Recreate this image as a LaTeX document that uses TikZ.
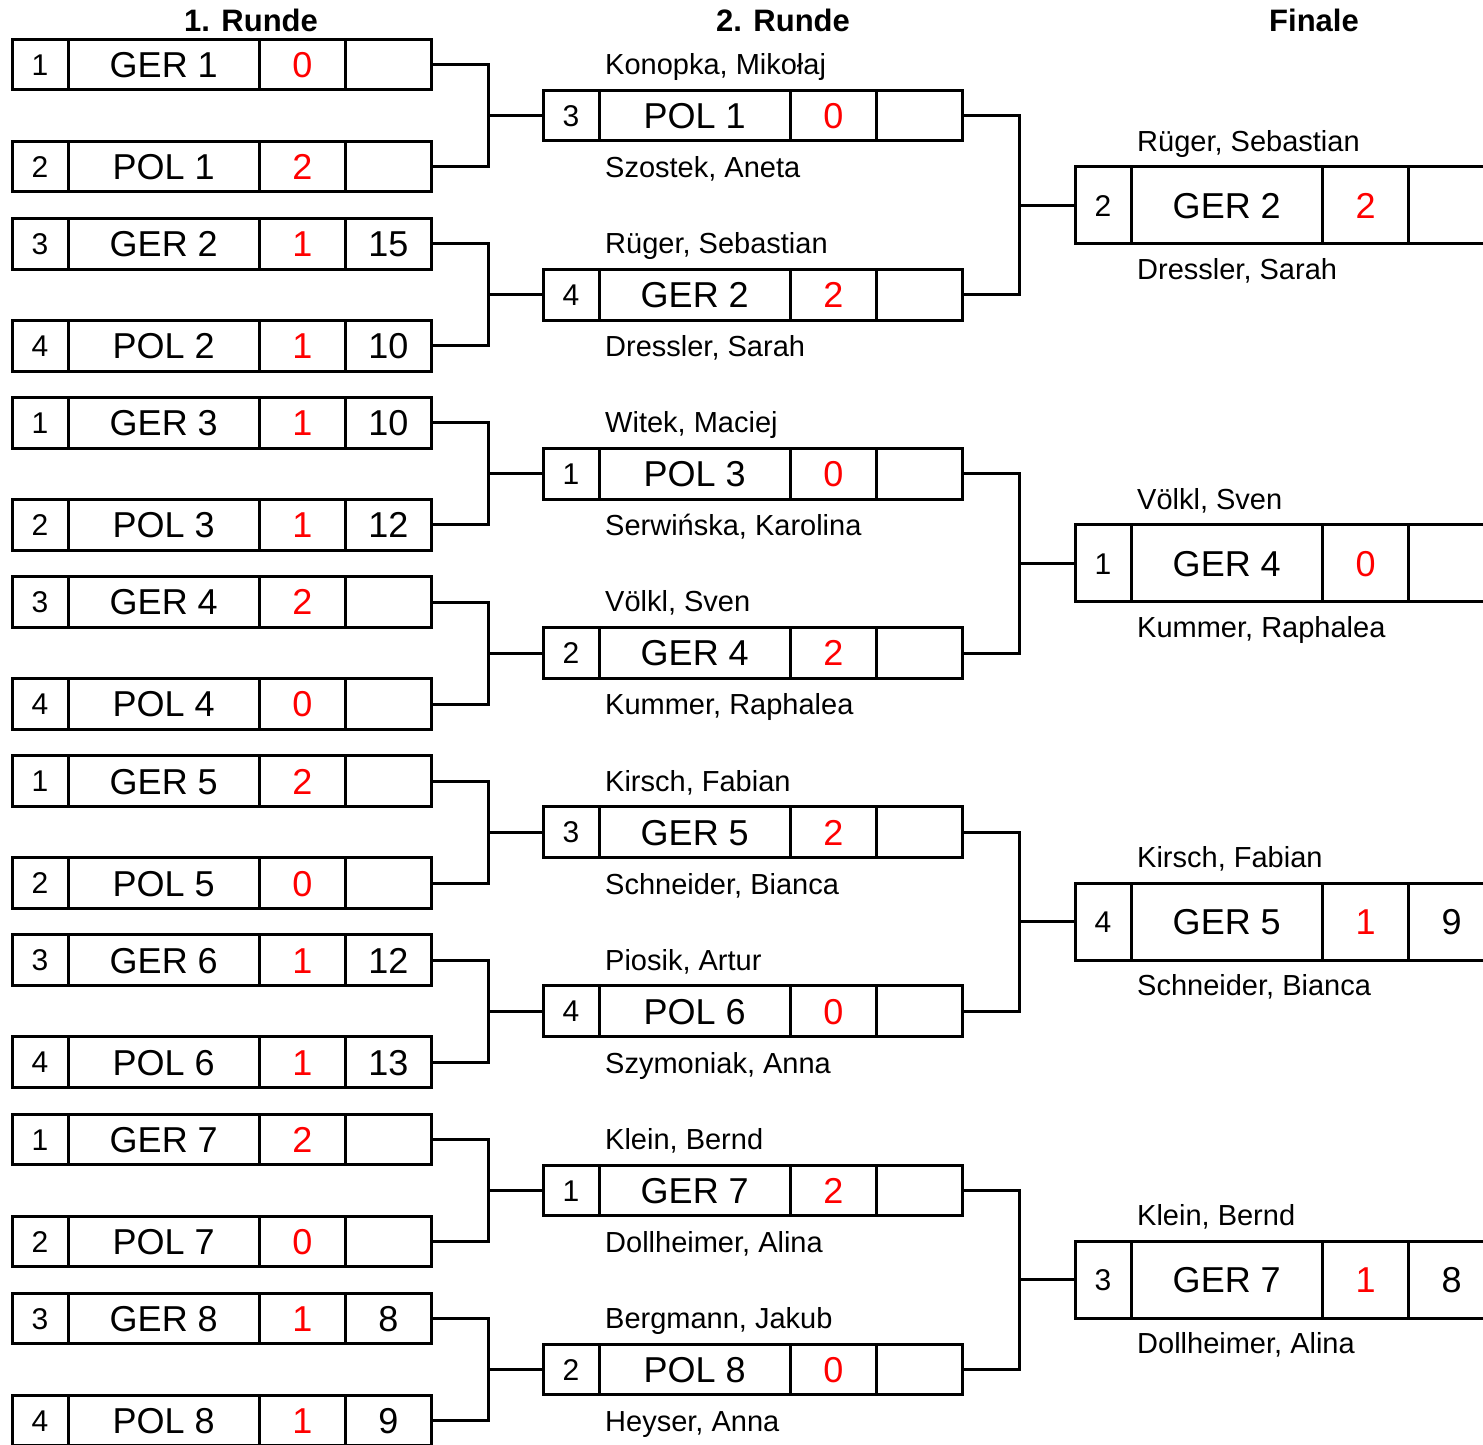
\documentclass[tikz,border=0pt]{standalone}
\usepackage{fontspec}
\setmainfont{Liberation Sans}
\tikzset{
  cellbase/.style={draw, line width=3pt, inner sep=0pt, outer sep=0pt, rectangle},
  bigtxt/.style={font=\fontsize{36}{36}\selectfont, text height=25.8pt, text depth=0pt},
  seedcell/.style={cellbase, minimum width=56, font=\fontsize{30}{30}\selectfont, text height=21.5pt, text depth=0pt},
  teamcell/.style={cellbase, bigtxt, minimum width=191.5},
  scorecell/.style={cellbase, bigtxt, minimum width=86, text=red},
  extracell/.style={cellbase, bigtxt, minimum width=86},
  namelabel/.style={anchor=west, inner sep=0pt, font=\fontsize{29}{29}\selectfont, text height=20.8pt, text depth=0pt},
  header/.style={inner sep=0pt, font=\bfseries\fontsize{31}{31}\selectfont, text height=22.2pt, text depth=0pt},
  link/.style={line width=3pt},
}
% #1 id, #2 x-left, #3 y-center, #4 height, #5 seed, #6 team, #7 score, #8 extra
\newcommand{\matchrow}[8]{%
  \node[seedcell, minimum height=#4, anchor=west] (#1-s) at (#2,#3) {#5};
  \node[teamcell, minimum height=#4, anchor=west] (#1-t) at (#1-s.east) {#6};
  \node[scorecell, minimum height=#4, anchor=west] (#1-p) at (#1-t.east) {#7};
  \node[extracell, minimum height=#4, anchor=west] (#1-x) at (#1-p.east) {#8};
}
% #1 id, #2 x, #3 y-center, #4 up offset, #5 down offset, #6 top name, #7 bottom name
\newcommand{\playernames}[7]{%
  \node[namelabel] (#1-up) at (#2,#3-#4) {#6};
  \node[namelabel] (#1-dn) at (#2,#3+#5) {#7};
}
\begin{document}
\begin{tikzpicture}[x=1pt,y=-1pt]
\useasboundingbox (0,0) rectangle (1483,1444);

% headers
\node[header] (h1) at (251,20) {1. Runde};
\node[header] (h2) at (783,20) {2. Runde};
\node[header] (h3) at (1314,20) {Finale};

% Round 1
\matchrow{a1}{12}{64.7}{50.5}{1}{GER 1}{0}{}
\matchrow{a2}{12}{166.7}{50.5}{2}{POL 1}{2}{}
\matchrow{a3}{12}{243.8}{50.5}{3}{GER 2}{1}{15}
\matchrow{a4}{12}{345.8}{50.5}{4}{POL 2}{1}{10}
\matchrow{a5}{12}{422.9}{50.5}{1}{GER 3}{1}{10}
\matchrow{a6}{12}{524.9}{50.5}{2}{POL 3}{1}{12}
\matchrow{a7}{12}{602.0}{50.5}{3}{GER 4}{2}{}
\matchrow{a8}{12}{704.0}{50.5}{4}{POL 4}{0}{}
\matchrow{a9}{12}{781.1}{50.5}{1}{GER 5}{2}{}
\matchrow{a10}{12}{883.1}{50.5}{2}{POL 5}{0}{}
\matchrow{a11}{12}{960.2}{50.5}{3}{GER 6}{1}{12}
\matchrow{a12}{12}{1062.2}{50.5}{4}{POL 6}{1}{13}
\matchrow{a13}{12}{1139.3}{50.5}{1}{GER 7}{2}{}
\matchrow{a14}{12}{1241.3}{50.5}{2}{POL 7}{0}{}
\matchrow{a15}{12}{1318.4}{50.5}{3}{GER 8}{1}{8}
\matchrow{a16}{12}{1420.4}{50.5}{4}{POL 8}{1}{9}

% Round 2
\matchrow{b1}{543}{115.7}{50.5}{3}{POL 1}{0}{}
\matchrow{b2}{543}{294.8}{50.5}{4}{GER 2}{2}{}
\matchrow{b3}{543}{473.9}{50.5}{1}{POL 3}{0}{}
\matchrow{b4}{543}{653.0}{50.5}{2}{GER 4}{2}{}
\matchrow{b5}{543}{832.1}{50.5}{3}{GER 5}{2}{}
\matchrow{b6}{543}{1011.2}{50.5}{4}{POL 6}{0}{}
\matchrow{b7}{543}{1190.3}{50.5}{1}{GER 7}{2}{}
\matchrow{b8}{543}{1369.4}{50.5}{2}{POL 8}{0}{}

\playernames{b1}{605}{115.7}{51.5}{51.5}{Konopka, Mikołaj}{Szostek, Aneta}
\playernames{b2}{605}{294.8}{51.5}{51.5}{Rüger, Sebastian}{Dressler, Sarah}
\playernames{b3}{605}{473.9}{51.5}{51.5}{Witek, Maciej}{Serwińska, Karolina}
\playernames{b4}{605}{653.0}{51.5}{51.5}{Völkl, Sven}{Kummer, Raphalea}
\playernames{b5}{605}{832.1}{51.5}{51.5}{Kirsch, Fabian}{Schneider, Bianca}
\playernames{b6}{605}{1011.2}{51.5}{51.5}{Piosik, Artur}{Szymoniak, Anna}
\playernames{b7}{605}{1190.3}{51.5}{51.5}{Klein, Bernd}{Dollheimer, Alina}
\playernames{b8}{605}{1369.4}{51.5}{51.5}{Bergmann, Jakub}{Heyser, Anna}

% Finale
\matchrow{c1}{1075}{205.25}{77}{2}{GER 2}{2}{}
\matchrow{c2}{1075}{563.45}{77}{1}{GER 4}{0}{}
\matchrow{c3}{1075}{921.65}{77}{4}{GER 5}{1}{9}
\matchrow{c4}{1075}{1279.85}{77}{3}{GER 7}{1}{8}

\playernames{c1}{1137}{205.25}{64.5}{63.5}{Rüger, Sebastian}{Dressler, Sarah}
\playernames{c2}{1137}{563.45}{64.5}{63.5}{Völkl, Sven}{Kummer, Raphalea}
\playernames{c3}{1137}{921.65}{64.5}{63.5}{Kirsch, Fabian}{Schneider, Bianca}
\playernames{c4}{1137}{1279.85}{64.5}{63.5}{Klein, Bernd}{Dollheimer, Alina}

% connectors round 1 -> round 2
\foreach \i/\y in {1/115.7, 2/294.8, 3/473.9, 4/653.0, 5/832.1, 6/1011.2, 7/1190.3, 8/1369.4}{
  \pgfmathtruncatemacro{\ta}{2*\i-1}
  \pgfmathtruncatemacro{\tb}{2*\i}
  \coordinate (ja\i) at (488,\y);
  \draw[link] (a\ta-x.east) -| (ja\i) |- (a\tb-x.east);
  \draw[link] (ja\i) -- (b\i-s.west);
}
% connectors round 2 -> finale
\foreach \i/\y in {1/205.25, 2/563.45, 3/921.65, 4/1279.85}{
  \pgfmathtruncatemacro{\ta}{2*\i-1}
  \pgfmathtruncatemacro{\tb}{2*\i}
  \coordinate (jb\i) at (1019,\y);
  \draw[link] (b\ta-x.east) -| (jb\i) |- (b\tb-x.east);
  \draw[link] (jb\i) -- (c\i-s.west);
}
\end{tikzpicture}
\end{document}
